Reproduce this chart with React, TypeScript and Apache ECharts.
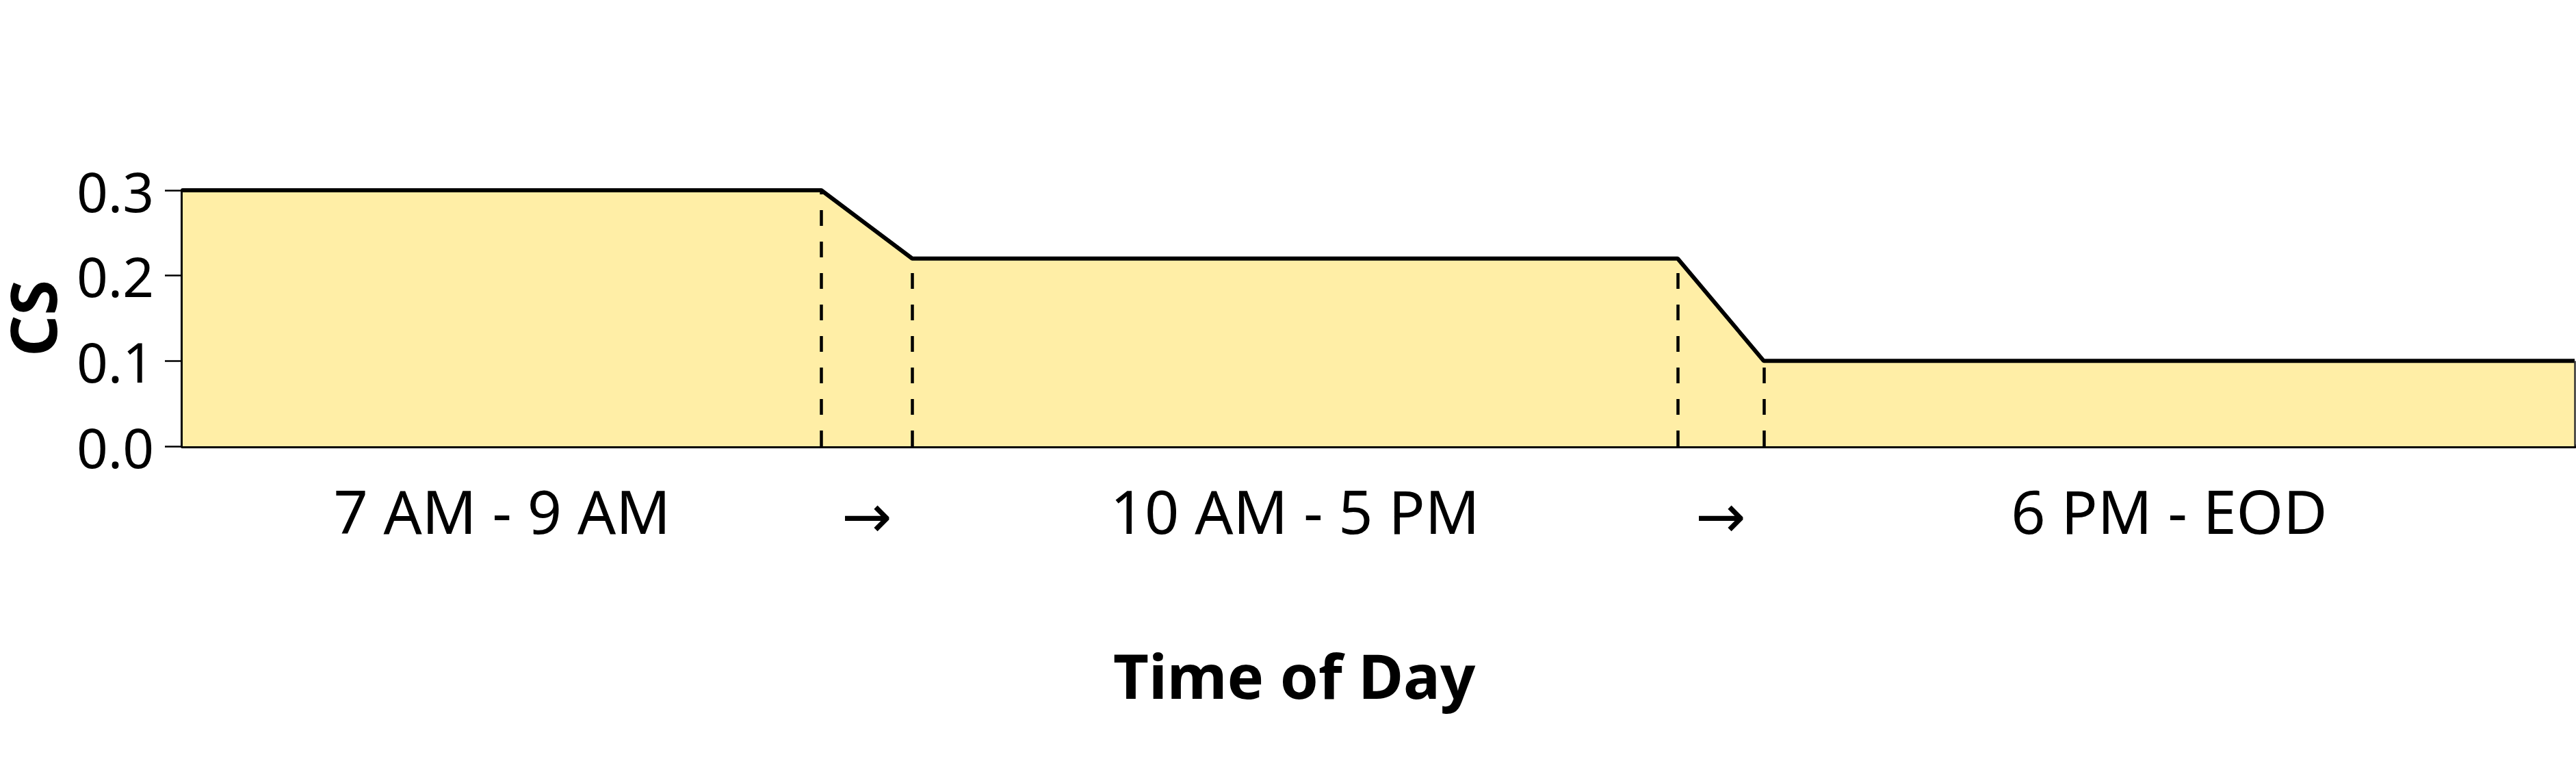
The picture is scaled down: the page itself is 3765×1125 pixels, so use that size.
import React, { useEffect, useRef } from "react";
import * as echarts from "echarts";

// x positions of segment boundaries (arbitrary time units along the day)
const xBreaks = [0, 2.67, 3.05, 6.25, 6.61, 10];
// CS value at each boundary
const csValues = [0.3, 0.3, 0.22, 0.22, 0.1, 0.1];
const periodLabels = ["7 AM - 9 AM", "10 AM - 5 PM", "6 PM - EOD"];
const transitionLabel = "→";
const yTicks = [0, 0.1, 0.2, 0.3];

const FONT = "Noto Sans";

export default function App() {
  const ref = useRef<HTMLDivElement>(null);

  useEffect(() => {
    if (!ref.current) return;
    const chart = echarts.init(ref.current, undefined, { renderer: "svg" });

    const periodCenters = periodLabels.map(
      (_, i) => (xBreaks[2 * i] + xBreaks[2 * i + 1]) / 2
    );
    const transitionCenters = [
      (xBreaks[1] + xBreaks[2]) / 2,
      (xBreaks[3] + xBreaks[4]) / 2,
    ];
    const labelValues = [...periodCenters, ...transitionCenters].sort(
      (a, b) => a - b
    );

    const seriesData = xBreaks.map((x, i) => [x, csValues[i]]);

    const dashed = [1, 2, 3, 4].map((i) => [
      { coord: [xBreaks[i], 0] },
      { coord: [xBreaks[i], csValues[i]] },
    ]);
    const last = xBreaks.length - 1;
    const edge = [
      {
        coord: [xBreaks[last], 0],
        lineStyle: { type: "solid", width: 2.5, color: "#333" },
      },
      { coord: [xBreaks[last], csValues[last]] },
    ];

    chart.setOption({
      animation: false,
      backgroundColor: "#ffffff",
      title: {
        text: "Time of Day",
        left: 1622,
        top: 936,
        textStyle: {
          fontFamily: FONT,
          fontSize: 90,
          fontWeight: "bold",
          color: "#000",
        },
      },
      grid: {
        left: 267,
        right: 2,
        top: 278,
        bottom: 473,
        containLabel: false,
        outerBoundsMode: "none",
      },
      xAxis: {
        type: "value",
        min: xBreaks[0],
        max: xBreaks[last],
        splitLine: { show: false },
        axisTick: { show: false },
        axisLine: { show: true, lineStyle: { color: "#000", width: 6 } },
        axisLabel: {
          customValues: labelValues,
          margin: 50,
          fontFamily: FONT,
          fontSize: 88,
          lineHeight: 88,
          color: "#000",
          formatter: (v: number) => {
            const pi = periodCenters.findIndex((c) => Math.abs(c - v) < 1e-6);
            if (pi >= 0) return periodLabels[pi];
            return "{arr|" + transitionLabel + "}";
          },
          rich: {
            arr: {
              fontFamily: "DejaVu Sans",
              fontSize: 88,
              lineHeight: 104,
              color: "#000",
            },
          },
        },
      },
      yAxis: {
        type: "value",
        min: yTicks[0],
        max: yTicks[yTicks.length - 1],
        interval: 0.1,
        name: "CS",
        nameLocation: "middle",
        nameRotate: 90,
        nameGap: 182,
        nameTextStyle: {
          fontFamily: FONT,
          fontSize: 94,
          lineHeight: 76,
          fontWeight: "bold",
          color: "#000",
        },
        splitLine: { show: false },
        axisLine: { show: true, lineStyle: { color: "#000", width: 6 } },
        axisTick: {
          show: true,
          length: 26,
          lineStyle: { color: "#000", width: 2.5 },
        },
        axisLabel: {
          margin: 42,
          fontFamily: FONT,
          fontSize: 80,
          color: "#000",
          formatter: (v: number) => v.toFixed(1),
        },
      },
      series: [
        {
          type: "line",
          data: seriesData,
          showSymbol: false,
          symbol: "none",
          clip: false,
          lineStyle: { color: "#000", width: 6 },
          areaStyle: { color: "#FFEEA6", opacity: 1 },
          z: 2,
          markLine: {
            silent: true,
            symbol: "none",
            label: { show: false },
            lineStyle: { type: [23, 23], width: 4.5, color: "#000" },
            data: [...dashed, edge],
          },
        },
      ],
    });

    return () => chart.dispose();
  }, []);

  return (
    <div
      ref={ref}
      style={{
        position: "fixed",
        left: 0,
        top: 0,
        width: 3765,
        height: 1125,
        background: "#fff",
      }}
    />
  );
}
